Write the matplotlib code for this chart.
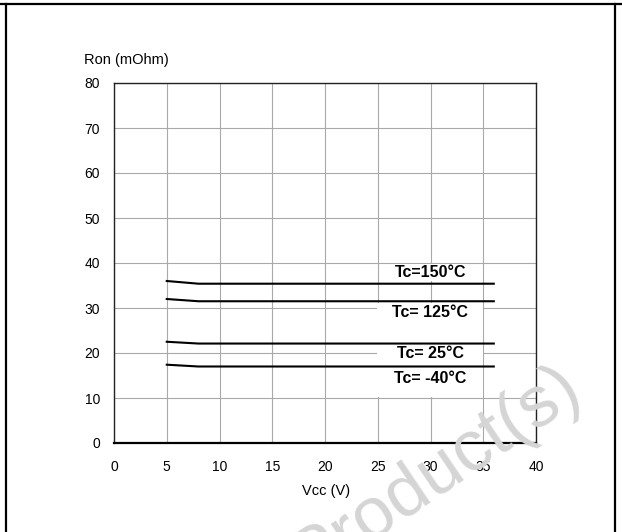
import matplotlib
matplotlib.use('Agg')
import matplotlib.pyplot as plt
from matplotlib.lines import Line2D
from matplotlib.patches import Rectangle

plt.rcParams['font.family'] = ['Liberation Sans', 'DejaVu Sans']

# Ron vs Vcc curves for each case temperature
vcc = [5, 8, 36]
ron_150 = [36.0, 35.4, 35.4]
ron_125 = [32.0, 31.5, 31.5]
ron_25 = [22.5, 22.1, 22.1]
ron_m40 = [17.4, 17.0, 17.0]

x_ticks = [0, 5, 10, 15, 20, 25, 30, 35, 40]
y_ticks = [0, 10, 20, 30, 40, 50, 60, 70, 80]

W, H = 622, 532
fig = plt.figure(figsize=(W / 100, H / 100), dpi=100)
ax = fig.add_axes([114 / W, 1 - 443 / H, 422 / W, 360 / H])

ax.set_xlim(0, 40)
ax.set_ylim(0, 80)
ax.set_xticks(x_ticks)
ax.set_yticks(y_ticks)
ax.tick_params(length=0, labelsize=10)
ax.tick_params(axis='x', pad=12)
ax.tick_params(axis='y', pad=10)
ax.grid(True, color='#a9a9a9', lw=0.8)
ax.set_axisbelow(True)
for s in ['top', 'right', 'left']:
    ax.spines[s].set_linewidth(1.0)
    ax.spines[s].set_color('#222222')
ax.spines['bottom'].set_linewidth(1.6)

# white box behind the lower labels
ax.add_patch(Rectangle((24.9, 10.2), 10.1, 20.9, facecolor='white', edgecolor='none', zorder=1.5))

for ys in [ron_150, ron_125, ron_25, ron_m40]:
    ax.plot(vcc, ys, color='black', lw=1.5, zorder=3)

lab = dict(ha='center', va='center', fontsize=11.5, fontweight='bold', zorder=4)
ax.text(30, 37.9, 'Tc=150°C', bbox=dict(facecolor='white', edgecolor='none', pad=0.5), **lab)
ax.text(30, 28.9, 'Tc= 125°C', **lab)
ax.text(30, 19.9, 'Tc= 25°C', **lab)
ax.text(30, 14.4, 'Tc= -40°C', **lab)

fig.text(84 / W, 1 - 60 / H, 'Ron (mOhm)', ha='left', va='center', fontsize=10.5)
fig.text(326 / W, 1 - 491 / H, 'Vcc (V)', ha='center', va='center', fontsize=10.5)

# watermark
fig.text(574 / W, 1 - 380 / H, 'Product(s)', rotation=34, rotation_mode='anchor',
         ha='right', va='center', fontsize=52, color='#d5d5d5', zorder=10)

# outer frame
fig.add_artist(Line2D([0, 1], [1 - 3.5 / H, 1 - 3.5 / H], color='black', lw=1.6))
fig.add_artist(Line2D([6 / W, 6 / W], [0, 1 - 3.5 / H], color='black', lw=1.6))
fig.add_artist(Line2D([615 / W, 615 / W], [0, 1 - 3.5 / H], color='black', lw=1.6))

fig.savefig('out.png', dpi=100)
